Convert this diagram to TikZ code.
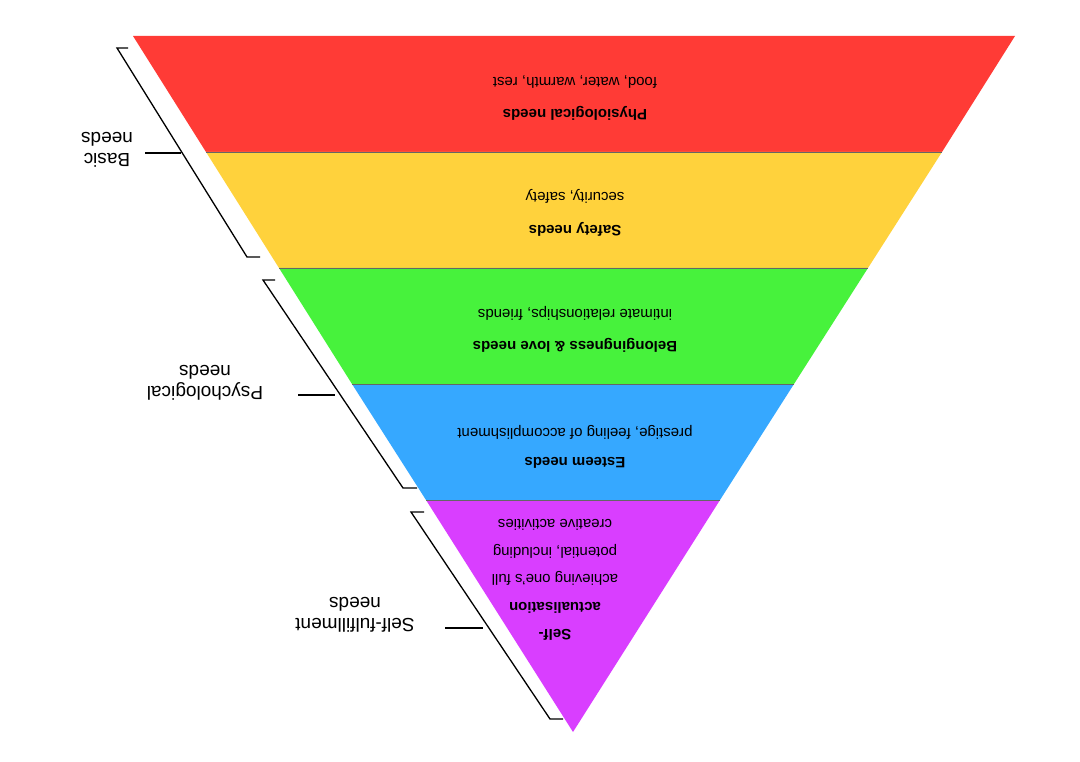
\documentclass[tikz,border=0pt]{standalone}
\usepackage{fontspec}
\setmainfont{Liberation Sans}
\begin{document}
\begin{tikzpicture}[x=1pt,y=-1pt,
  band/.style={draw=black!60,line width=0.4pt},
  br/.style={line width=1.3pt,black},
  t/.style={rotate=180,font=\fontsize{15}{17}\selectfont,align=center},
  lab/.style={rotate=180,font=\fontsize{19}{21}\selectfont,align=center}]
\useasboundingbox (0,0) rectangle (1080,762);
\fill[white] (0,0) rectangle (1080,762);
\definecolor{cr}{HTML}{FF3B36}\definecolor{cy}{HTML}{FFD23C}
\definecolor{cg}{HTML}{47F23C}\definecolor{cb}{HTML}{36A8FF}\definecolor{cp}{HTML}{D93EFF}
\fill[cr] (133,36) -- (1015,36) -- (942,152) -- (206,152) -- cycle;
\fill[cy] (206,152) -- (942,152) -- (868,268) -- (279,268) -- cycle;
\fill[cg] (279,268) -- (868,268) -- (794,384) -- (352,384) -- cycle;
\fill[cb] (352,384) -- (794,384) -- (720,500) -- (426,500) -- cycle;
\fill[cp] (426,500) -- (720,500) -- (573,732) -- cycle;
\draw[band] (206,152) -- (942,152) (279,268) -- (868,268) (352,384) -- (794,384) (426,500) -- (720,500);
\node[t] (r1) at (575,82) {food, water, warmth, rest};
\node[t] (r2) at (575,113) {\textbf{Physiological needs}};
\node[t] (y1) at (575,196) {security, safety};
\node[t] (y2) at (575,229) {\textbf{Safety needs}};
\node[t] (g1) at (575,313) {intimate relationships, friends};
\node[t] (g2) at (575,345) {\textbf{Belongingness \& love needs}};
\node[t] (b1) at (575,432) {prestige, feeling of accomplishment};
\node[t] (b2) at (575,463) {\textbf{Esteem needs}};
\node[t,font=\fontsize{15}{27.5}\selectfont] (p) at (555,580) {\textbf{Self-}\\\textbf{actualisation}\\achieving one's full\\potential, including\\creative activities};
\draw[br] (128,48) -- (117,48) -- (247,257) -- (260,257);
\draw[br] (145,153) -- (181,153);
\draw[br] (275,280) -- (263,280) -- (403,488) -- (417,488);
\draw[br] (298,395) -- (335,395);
\draw[br] (424,512) -- (411,512) -- (550,719) -- (563,719);
\draw[br] (445,628) -- (483,628);
\node[lab] (l1) at (107,150) {Basic\\needs};
\node[lab] (l2) at (205,383) {Psychological\\needs};
\node[lab] (l3) at (355,615) {Self-fulfillment\\needs};
\end{tikzpicture}
\end{document}
